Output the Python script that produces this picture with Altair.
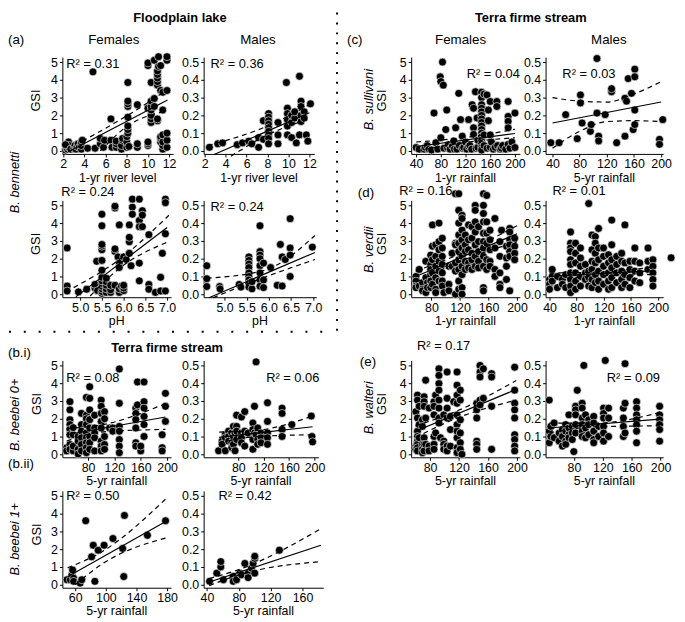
import altair as alt
import pandas as pd

FONT = "Liberation Sans"
FS = 13
TICK_FS = 12.5

# ---------------- data: (a) B. bennetti, floodplain lake ----------------
A1F_PTS = [(2.2,0.05),(2.3,0.15),(2.3,0.3),(2.4,0.1),(2.4,0.4),(2.5,0.2),(2.5,0.5),(2.6,0.3),(2.2,0.35),(2.7,0.1),
           (3.0,0.15),(3.1,0.3),(3.2,0.1),(3.3,0.25),(3.4,0.4),(3.5,0.2),(3.7,0.1),(3.7,0.3),(3.7,0.5),(3.8,0.6),
           (4.3,0.15),(5.0,0.15),(4.8,4.45),(5.5,0.4),(5.5,0.7),(5.8,0.2),(5.9,0.6),(6.5,1.8),(6.5,0.6),(6.6,0.2),
           (7.0,0.2),(7.0,0.4),(7.0,0.55),(7.5,0.1),(7.5,0.3),(7.6,0.6),(7.6,0.7),
           (8.0,0.2),(8.0,0.5),(8.0,0.8),(8.1,1.0),(8.1,1.2),(8.1,1.4),(8.1,1.9),(8.1,2.5),(8.1,2.65),(8.1,2.8),(8.1,3.85),(8.2,0.25),
           (9.0,0.2),(9.0,0.4),(9.0,2.6),(10.0,0.3),(10.0,0.4),(10.0,0.5),(10.0,2.4),(10.0,4.8),(10.0,4.95),
           (10.3,1.6),(10.3,1.8),(10.3,2.0),(10.3,2.3),(10.3,2.5),(10.3,2.8),(10.3,3.85),(10.6,2.95),(10.6,2.5),(10.6,5.1),
           (10.9,3.7),(10.9,3.9),(10.9,4.1),(10.9,4.3),(10.9,4.5),(11.0,4.75),(11.0,5.3),(10.9,1.7),(10.9,1.8),
           (11.2,0.5),(11.2,0.7),(11.2,0.8),(11.2,4.8),(11.2,3.4),(11.4,0.1),(11.4,0.3),(11.4,0.5),(11.4,0.9),(11.4,2.3),(11.4,3.3),
           (11.8,0.2),(11.8,0.6),(11.8,1.0),(11.8,3.4),(11.8,5.1),(11.8,5.3)]
A1F_FIT = [(2.5,-0.05),(11.85,2.87)]
A1F_UP = [(3.8,0.55),(8.0,1.97),(11.85,3.45)]
A1F_LO = [(5.5,0.0),(8.0,1.37),(11.85,2.25)]

A1M_PTS = [(2.45,0.02),(3.25,0.04),(3.7,0.045),(5.1,0.035),(5.6,0.045),(6.2,0.055),(6.5,0.04),(7.15,0.075),(7.15,0.02),
           (7.6,0.065),(7.6,0.17),(8.1,0.21),(8.1,0.19),(8.1,0.17),(8.1,0.15),(8.1,0.13),(8.1,0.11),(8.1,0.09),(8.1,0.07),(8.1,0.04),
           (9.0,0.16),(9.0,0.09),(9.0,0.04),(9.8,0.385),(9.9,0.24),(9.9,0.21),(9.9,0.175),(9.9,0.14),(9.9,0.09),
           (10.3,0.075),(10.3,0.16),(10.3,0.2),(10.6,0.185),(10.6,0.22),(10.75,0.045),(11.05,0.09),(11.05,0.42),
           (11.2,0.28),(11.2,0.25),(11.2,0.2),(11.2,0.165),(11.5,0.22),(11.5,0.185),(11.7,0.09),(11.85,0.055),(12.1,0.265)]
A1M_FIT = [(2.9,-0.02),(12.0,0.215)]
A1M_UP = [(2.3,0.03),(8.0,0.14),(12.0,0.26)]
A1M_LO = [(4.5,-0.03),(8.0,0.09),(12.0,0.18)]

A2F_PTS = [(4.7,2.6),(4.7,0.46),(4.7,0.18),(4.96,0.13),(5.15,0.28),(5.34,0.35),(5.34,0.55),(5.38,1.85),(5.4,0.2),
           (5.5,0.05),(5.5,0.15),(5.5,0.3),(5.5,0.45),(5.5,0.6),(5.5,0.75),(5.5,0.95),(5.5,1.35),(5.5,1.9),(5.5,2.5),(5.5,2.7),
           (5.5,2.8),(5.5,3.85),(5.5,4.5),(5.6,0.1),(5.6,0.3),(5.6,0.5),(5.6,0.7),(5.6,0.9),(5.7,0.1),(5.7,0.25),(5.7,0.5),
           (5.8,2.4),(5.8,2.55),(5.8,4.85),(5.8,4.95),(5.8,0.5),(5.9,0.1),(5.9,0.3),(5.95,0.45),(6.0,0.2),(6.0,0.35),(6.0,0.5),
           (5.87,2.1),(5.9,1.75),(5.9,1.5),(5.9,3.9),(6.0,2.1),(6.06,1.95),(6.13,2.3),(6.13,2.95),(6.13,3.2),(6.17,1.6),(6.13,3.9),
           (6.2,4.9),(6.2,5.35),(6.2,4.5),(6.36,5.35),(6.36,4.15),(6.36,3.8),(6.36,1.75),(6.36,0.75),(6.43,4.7),(6.43,4.45),(6.43,3.8),
           (6.58,3.35),(6.58,0.55),(6.58,0.28),(6.73,0.1),(6.85,0.95),(6.89,2.3),(6.85,0.18),(6.96,0.18),(6.96,5.35),(6.96,5.15),(6.96,3.4)]
A2F_FIT = [(4.9,-0.15),(7.0,3.75)]
A2F_UP = [(4.85,0.37),(5.9,1.95),(7.04,4.44)]
A2F_LO = [(5.23,-0.1),(5.9,1.45),(7.04,2.96)]

A2M_PTS = [(4.6,0.16),(4.6,0.087),(4.6,0.043),(4.89,0.043),(4.9,0.03),(5.33,0.055),(5.37,0.04),
           (5.55,0.21),(5.55,0.19),(5.55,0.17),(5.55,0.15),(5.55,0.12),(5.55,0.1),(5.55,0.08),(5.55,0.06),(5.55,0.04),
           (5.62,0.03),(5.62,0.07),(5.8,0.385),(5.8,0.24),(5.8,0.22),(5.8,0.2),(5.8,0.16),(5.8,0.12),(5.8,0.08),(5.8,0.045),
           (5.88,0.175),(5.88,0.08),(5.88,0.037),(6.04,0.15),(6.19,0.05),(6.3,0.046),(6.26,0.28),(6.3,0.21),(6.37,0.195),
           (6.48,0.425),(6.48,0.26),(6.48,0.22),(6.48,0.1),(6.98,0.265)]
A2M_FIT = [(4.65,-0.02),(7.04,0.235)]
A2M_UP = [(4.6,0.09),(5.9,0.135),(7.04,0.33)]
A2M_LO = [(4.74,-0.02),(5.9,0.095),(7.04,0.195)]

# ---------------- (b) B. beebei, terra firme stream ----------------
BIF_PTS = [(47.5,0.37),(47.5,0.19),(52.5,2.96),(52.5,2.5),(52.5,1.95),(52.5,1.67),(52.5,1.4),(52.5,1.1),(52.5,0.55),(52.5,0.28),
           (57.5,0.19),(57.5,0.46),(57.5,1.1),(57.5,1.5),(65,1.0),(65,0.74),(65,0.28),(65,0.02),
           (70,2.3),(70,1.67),(70,1.3),(70,0.93),(70,0.55),(70,0.19),
           (77.5,3.2),(77.5,2.2),(77.5,2.0),(77.5,1.67),(77.5,1.2),(77.5,0.93),(77.5,0.65),(77.5,0.37),(77.5,0.09),
           (82.5,3.8),(82.5,3.15),(82.5,2.5),(82.5,1.95),(82.5,1.48),(82.5,1.0),(82.5,0.65),(82.5,0.28),
           (90,2.2),(90,1.48),(90,1.2),(90,0.93),(90,0.19),
           (100,3.05),(100,2.7),(100,2.3),(100,1.85),(100,1.48),(100,0.74),(100,0.46),(100,0.19),
           (105,2.4),(105,2.0),(105,1.0),(105,0.55),(105,0.28),(112.5,1.48),(117.5,1.48),(117.5,1.3),
           (127.5,4.8),(127.5,2.87),(127.5,1.57),(127.5,1.3),(127.5,0.83),(127.5,0.46),(127.5,0.09),
           (152.5,2.6),(152.5,2.3),(152.5,1.95),(152.5,1.48),(152.5,0.65),(152.5,0.46),(155,4.07),(155,2.78),
           (160,0.19),(160,0.46),(165,4.07),(165,2.96),(165,2.6),(165,2.13),(165,1.67),(165,1.0),
           (192.5,1.1),(192.5,0.37),(192.5,0.19),(197.5,3.43),(197.5,2.7),(197.5,1.85)]
BIF_FIT = [(47.5,1.1),(197.5,2.1)]
BIF_UP = [(47.5,1.45),(100,1.65),(197.5,2.85)]
BIF_LO = [(47.5,0.75),(100,1.25),(197.5,1.4)]

BIM_PTS = [(49,0.02),(54.5,0.074),(54.5,0.056),(59.6,0.11),(59.6,0.093),(59.6,0.02),(64.7,0.13),(64.7,0.1),(64.7,0.074),
           (69.8,0.12),(69.8,0.065),(69.8,0.037),(72.3,0.157),(72.3,0.1),(72.3,0.056),(74.9,0.12),(74.9,0.02),
           (77.4,0.22),(77.4,0.157),(77.4,0.13),(77.4,0.083),(85,0.21),(85,0.12),(85,0.093),(85,0.065),
           (90.2,0.24),(90.2,0.13),(90.2,0.046),(95.3,0.12),(103,0.176),(103,0.139),(103,0.083),(103,0.028),
           (105.5,0.27),(105.5,0.12),(108,0.52),(108,0.11),(110.6,0.148),(110.6,0.083),(110.6,0.056),
           (115.8,0.12),(115.8,0.093),(115.8,0.065),(126,0.29),(126,0.185),(126,0.12),(126,0.093),(126,0.056),
           (149,0.26),(149,0.23),(149,0.14),(149,0.1),(164.3,0.167),(195,0.215),(196,0.1),(197,0.07)]
BIM_FIT = [(50,0.095),(197,0.155)]
BIM_UP = [(50,0.125),(110,0.135),(197,0.215)]
BIM_LO = [(50,0.065),(110,0.1),(197,0.11)]

BIIF_PTS = [(49.3,0.28),(53.6,0.28),(55.7,0.56),(56.6,0.83),(57.9,0.37),(57.9,0.19),(66.4,0.09),(68.6,0.28),
            (73.7,3.6),(81.4,1.57),(83.6,2.22),(85.7,0.19),(90,1.94),(97.7,2.22),(109.3,2.6),(122,2.04),(123.4,0.46),
            (124.3,3.9),(154.3,2.78),(178,3.6)]
BIIF_FIT = [(50,0.45),(180,3.6)]
BIIF_UP = [(50,0.95),(95,1.86),(180,4.9)]
BIIF_LO = [(60,0.0),(95,1.16),(180,2.65)]

BIIM_PTS = [(43.3,0.019),(52.4,0.065),(57.4,0.1),(57.4,0.13),(60.7,0.028),(73,0.046),(73,0.019),(77.2,0.028),
            (81.4,0.065),(83.4,0.056),(87.6,0.12),(91.7,0.065),(91.7,0.04),(95.9,0.093),(97.9,0.12),(100,0.148),
            (100,0.16),(100,0.065),(131,0.194)]
BIIM_FIT = [(43,0.015),(183,0.222)]
BIIM_UP = [(43,0.035),(80,0.085),(183,0.315)]
BIIM_LO = [(43,-0.005),(80,0.055),(183,0.13)]

# ---------------- (c) B. sullivani ----------------
CF_PTS = [(40,0.19),(45,0.1),(53,0.1),(55,0.2),(58,0.3),(61,0.1),(65,0.05),(69,2.13),(72,0.46),(75,0.1),(79,4.17),(80,3.9),
          (80,0.74),(82.7,5.0),(84,3.7),(85,0.15),(88,1.2),(89.6,2.3),(90.7,0.19),(92,0.35),(95,0.1),(98.7,0.28),(101,0.56),
          (102,0.1),(104,1.3),(106,0.1),(109,3.24),(110,0.3),(112,1.76),(114.7,0.83),(115,0.15),(117,0.2),(120,0.5),(122,0.1),
          (125,1.76),(125,0.25),(127,0.3),(130,0.1),(130.7,2.6),(133,2.4),(133,1.3),(133,0.93),(136,3.33),(137,0.15),(138.7,1.85),
          (140,0.2),(140,0.6),(146,3.3),(146,3.0),(146,2.6),(146,2.4),(146,2.2),(146,2.0),(146,1.8),(146,1.6),(146,1.4),(146,1.2),
          (146,1.0),(146,0.8),(146,0.6),(146,0.4),(146,0.2),(146,0.05),(150,3.2),(150,0.9),(150,0.3),(154.7,3.15),(155,0.15),
          (157,2.3),(157,1.7),(160,2.78),(160,0.9),(160,0.2),(162,0.5),(165,0.1),(168,0.2),(170.7,2.78),(170.7,2.5),(172,0.3),
          (176,0.1),(178,0.15),(180,0.3),(185,0.1),(189,2.78),(189,1.94),(189,1.67),(189,1.3),(189,0.37),(192,0.15),(195,0.5),
          (200,2.13),(200,0.19)]
CF_FIT = [(40,0.25),(200,0.98)]
CF_UP = [(40,0.5),(130,0.8),(200,1.22)]
CF_LO = [(40,0.0),(130,0.52),(200,0.74)]

CM_PTS = [(37.6,0.046),(49.7,0.046),(59.4,0.204),(76.4,0.069),(81.2,0.315),(81.2,0.27),(83.6,0.157),(95.8,0.11),(97,0.148),
          (105.5,0.52),(105.5,0.213),(108,0.083),(108,0.056),(117.6,0.204),(127,0.333),(127,0.35),(134.5,0.046),(146.7,0.083),
          (146.7,0.296),(149,0.28),(151.5,0.407),(156.4,0.324),(158.8,0.12),(161.2,0.46),(161.2,0.417),(161.2,0.23),
          (161.2,0.148),(197.6,0.065),(197.6,0.037),(202.4,0.176)]
CM_FIT = [(40,0.157),(200,0.275)]
CM_UP = [(40,0.3),(80,0.28),(120,0.275),(160,0.32),(200,0.39)]
CM_LO = [(40,0.015),(80,0.11),(120,0.165),(160,0.17),(200,0.165)]

# ---------------- (d) B. verdii ----------------
DF_PTS = [(58.3,1.0),(58.3,0.74),(58.3,0.46),(58.3,0.37),(62.9,0.46),(62.9,1.39),(67.5,0.65),(67.5,0.28),(67.5,0.19),
          (72.2,1.85),(72.2,0.93),(72.2,0.09),(74.5,0.65),(74.5,0.37),
          (79,2.2),(79,1.67),(79,1.39),(79,1.1),(79,0.74),(79,0.37),(81.4,3.9),(81.4,2.7),(81.4,1.94),(81.4,1.2),(81.4,0.56),
          (86,2.78),(86,2.13),(86,1.57),(86,0.93),(86,0.28),(86,0.09),(90.6,4.0),(90.6,2.96),(90.6,2.5),(90.6,1.85),(90.6,1.3),(90.6,0.74),
          (95.2,3.15),(95.2,2.6),(95.2,2.13),(95.2,1.67),(95.2,1.2),(95.2,0.74),(95.2,0.46),(97.5,0.09),
          (104.5,1.57),(104.5,0.56),(104.5,0.19),(109,2.3),(109,1.57),
          (113.7,5.65),(113.7,2.87),(113.7,2.78),(113.7,1.76),(113.7,1.3),(113.7,0.0),
          (118.3,5.65),(118.3,4.72),(118.3,4.0),(118.3,3.33),(118.3,2.87),(118.3,2.4),(118.3,1.94),(118.3,1.39),(118.3,0.74),(118.3,0.28),
          (122.9,4.44),(122.9,4.26),(122.9,3.6),(122.9,3.06),(122.9,2.6),(122.9,2.13),(122.9,1.57),(122.9,1.1),(122.9,0.37),(122.9,0.0),
          (127.5,3.33),(127.5,2.78),(127.5,2.4),(127.5,1.85),(127.5,1.39),(132,3.9),(132,3.06),(132,2.5),(132,1.76),(132,1.48),
          (136.8,3.8),(136.8,3.15),(136.8,2.3),(136.8,1.94),(136.8,1.39),
          (141.4,5.0),(141.4,4.72),(141.4,4.07),(141.4,3.5),(141.4,2.78),(141.4,2.13),(141.4,1.57),
          (146,3.8),(146,2.96),(146,2.4),(146,1.85),(146,1.48),
          (152.9,5.65),(152.9,5.0),(152.9,4.54),(152.9,4.07),(152.9,3.43),(152.9,2.96),(152.9,2.6),(152.9,2.13),(152.9,1.57),(152.9,0.37),(152.9,0.19),
          (157.5,5.56),(157.5,4.07),(157.5,3.43),(157.5,2.87),(157.5,1.94),(157.5,1.39),
          (162.1,3.6),(162.1,3.06),(162.1,2.5),(162.1,1.85),(162.1,1.57),(169,4.26),(169,2.6),(169,1.39),(169,1.0),
          (176,2.96),(176,2.13),(176,1.2),(176,0.56),(176,0.37),(178.3,3.6),
          (185.2,2.7),(185.2,2.04),(185.2,1.57),(185.2,0.83),
          (189.8,3.7),(189.8,3.5),(189.8,3.06),(189.8,2.78),(189.8,2.4),(189.8,2.13),(189.8,0.19),
          (196.7,3.15),(196.7,2.7),(196.7,2.3),(196.7,1.94)]
DF_FIT = [(58,1.0),(200,3.4)]
DF_UP = [(58,1.3),(125,2.35),(200,3.85)]
DF_LO = [(58,0.68),(125,1.92),(200,2.95)]

DM_PTS = [(40,0.083),(40,0.056),(40,0.028),(44,0.139),(44,0.1),(44,0.074),(51.6,0.1),(51.6,0.037),(59,0.083),(59,0.056),
          (63.8,0.11),(63.8,0.037),
          (71,0.35),(71,0.287),(71,0.26),(71,0.24),(71,0.194),(71,0.167),(71,0.12),(71,0.083),(71,0.046),(71,0.009),
          (78.3,0.287),(78.3,0.23),(78.3,0.176),(78.3,0.12),(78.3,0.074),(78.3,0.028),
          (85.6,0.26),(85.6,0.204),(85.6,0.157),(85.6,0.1),(85.6,0.046),(92.8,0.167),(92.8,0.12),(92.8,0.083),
          (97.7,0.51),(97.7,0.13),(97.7,0.093),(97.7,0.046),
          (102.5,0.333),(102.5,0.25),(102.5,0.185),(102.5,0.139),(102.5,0.083),(102.5,0.037),
          (107.4,0.324),(107.4,0.287),(107.4,0.23),(107.4,0.176),(107.4,0.11),(107.4,0.065),
          (112.2,0.37),(112.2,0.26),(112.2,0.194),(112.2,0.13),(112.2,0.074),(112.2,0.028),
          (119.5,0.26),(119.5,0.213),(119.5,0.157),(119.5,0.11),(119.5,0.056),
          (126.8,0.222),(126.8,0.176),(126.8,0.12),(126.8,0.074),(126.8,0.028),
          (131.6,0.417),(131.6,0.278),(131.6,0.194),(131.6,0.148),(131.6,0.093),(131.6,0.037),
          (138.9,0.213),(138.9,0.167),(138.9,0.12),(138.9,0.065),
          (146.2,0.23),(146.2,0.185),(146.2,0.13),(146.2,0.083),(146.2,0.037),
          (151,0.39),(151,0.176),(151,0.11),(151,0.056),(158.3,0.185),(158.3,0.139),(158.3,0.093),(158.3,0.037),
          (165.6,0.26),(165.6,0.185),(165.6,0.13),(165.6,0.074),(172.8,0.176),(172.8,0.12),(172.8,0.065),
          (185,0.26),(185,0.185),(185,0.139),(192.2,0.194),(192.2,0.157),(192.2,0.12),(192.2,0.083),(192.2,0.046),
          (219,0.205)]
DM_FIT = [(40,0.1),(195,0.133)]
DM_UP = [(40,0.12),(120,0.125),(195,0.155)]
DM_LO = [(40,0.08),(120,0.105),(195,0.11)]

# ---------------- (e) B. walteri ----------------
EF_PTS = [(60.5,2.4),(60.5,0.46),(60.5,0.28),(62.7,3.33),(62.7,3.05),(62.7,2.04),(62.7,1.3),(62.7,1.0),(62.7,0.74),(62.7,0.56),
          (62.7,0.37),(62.7,0.19),(65,2.7),(65,1.67),(65,0.93),(69.5,1.94),(69.5,1.57),(69.5,0.56),(69.5,0.28),(69.5,0.09),
          (71.8,3.24),(71.8,2.96),(71.8,2.7),(71.8,0.93),(71.8,0.56),(71.8,0.19),(74,4.17),(74,2.04),(74,0.56),
          (78.6,2.6),(78.6,0.46),(78.6,0.19),(85.5,2.96),(85.5,2.7),(85.5,2.22),(85.5,1.0),(85.5,0.56),(85.5,0.28),
          (87.7,3.33),(87.7,1.2),(92.3,4.81),(92.3,4.44),(92.3,3.98),(92.3,3.61),(92.3,3.05),(92.3,2.6),(92.3,2.04),(92.3,1.76),
          (94.5,0.93),(99,2.22),(99,0.74),(99,0.56),(99,0.28),(103.6,4.63),(103.6,3.15),(103.6,2.6),(103.6,2.04),(103.6,0.46),
          (103.6,0.19),(108.2,2.13),(108.2,1.39),(108.2,0.46),(112.7,2.96),
          (117.3,4.63),(117.3,3.89),(117.3,3.33),(117.3,2.87),(117.3,2.22),(117.3,1.67),(117.3,1.3),(117.3,0.93),(117.3,0.37),(117.3,0.09),
          (121.8,3.61),(121.8,3.05),(121.8,1.94),(121.8,1.2),(121.8,0.65),(121.8,0.28),(124,0.0),
          (144.5,2.87),(144.5,2.5),(144.5,2.04),(144.5,0.74),(144.5,0.56),(144.5,0.28),
          (149,5.0),(149,4.63),(149,4.35),(149,3.05),(149,2.78),(153.6,4.81),(153.6,3.15),
          (165,4.54),(165,4.35),(165,2.7),(165,0.28),
          (196.8,4.9),(196.8,3.61),(196.8,2.87),(196.8,2.5),(196.8,2.04),(196.8,1.1),(196.8,0.83),(196.8,0.46),(196.8,0.19)]
EF_FIT = [(60,1.3),(199,3.65)]
EF_UP = [(60,1.6),(115,2.4),(199,4.15)]
EF_LO = [(60,0.95),(115,2.0),(199,3.05)]

EM_PTS = [(45.8,0.305),(45.8,0.13),(45.8,0.065),(48,0.157),(48,0.1),(52.6,0.176),(52.6,0.093),(59.5,0.12),(59.5,0.074),
          (64,0.139),(64,0.1),(64,0.046),(68.6,0.167),(68.6,0.13),(68.6,0.074),(68.6,0.056),
          (73,0.222),(73,0.148),(73,0.11),(73,0.093),(77.7,0.157),(77.7,0.12),(77.7,0.083),(79.8,0.015),
          (82.3,0.27),(82.3,0.25),(82.3,0.222),(82.3,0.167),(82.3,0.12),(84.6,0.36),(93.7,0.5),
          (91.4,0.287),(91.4,0.26),(91.4,0.204),(91.4,0.167),(91.4,0.13),(91.4,0.1),
          (96,0.222),(96,0.148),(96,0.093),(100.5,0.194),(100.5,0.167),(100.5,0.11),
          (107.4,0.213),(107.4,0.176),(107.4,0.13),(107.4,0.083),(107.4,0.065),(114.2,0.157),(114.2,0.1),
          (121,0.26),(121,0.23),(121,0.204),(121,0.157),(121,0.12),(121,0.074),(123.4,0.528),
          (128,0.26),(128,0.204),(128,0.1),(148.5,0.26),(148.5,0.204),(148.5,0.157),(148.5,0.1),
          (150.8,0.51),(150.8,0.287),(150.8,0.12),
          (166.8,0.296),(166.8,0.26),(166.8,0.222),(166.8,0.194),(166.8,0.167),(166.8,0.13),(166.8,0.065),
          (198.7,0.27),(198.7,0.222),(198.7,0.194),(198.7,0.167),(198.7,0.139),(198.7,0.074)]
EM_FIT = [(46,0.148),(199,0.198)]
EM_UP = [(46,0.175),(110,0.175),(199,0.235)]
EM_LO = [(46,0.12),(110,0.155),(199,0.16)]

YT_F = [0, 1, 2, 3, 4, 5]
YT_M = [0.0, 0.1, 0.2, 0.3, 0.4, 0.5]
YD_F = [-0.17, 5.28]
YD_M = [-0.017, 0.528]
H = 98


def df(pairs):
    return pd.DataFrame(pairs, columns=["x", "y"])


def txt(s, px, py, org, size=FS, align="center", weight="normal", style="normal", angle=0):
    return alt.Chart(pd.DataFrame({"t": [s]})).mark_text(
        align=align, baseline="middle", fontSize=size, font=FONT, fontWeight=weight,
        fontStyle=style, angle=angle, color="black"
    ).encode(x=alt.value(px - org[0]), y=alt.value(py - org[1]), text="t:N")


def hrule(x1, x2, y, org):
    return alt.Chart(pd.DataFrame({"a": [0]})).mark_rule(
        color="black", strokeWidth=2, strokeDash=[2, 13]
    ).encode(x=alt.value(x1 - org[0]), x2=alt.value(x2 - org[0]), y=alt.value(y - org[1]))


def vrule(x, y1, y2, org):
    return alt.Chart(pd.DataFrame({"a": [0]})).mark_rule(
        color="black", strokeWidth=2, strokeDash=[2, 8]
    ).encode(x=alt.value(x - org[0]), y=alt.value(y1 - org[1]), y2=alt.value(y2 - org[1]))


def spacer(w, h):
    return alt.Chart(pd.DataFrame({"a": [0]})).mark_point(opacity=0, size=1).encode(
        x=alt.value(0), y=alt.value(0)).properties(width=w, height=h)


def panel(org, w, pts, fit, up, lo, xdom, xticks, male, r2, r2pos, r2align, xtitle, extra, xfmt="d"):
    ydom = YD_M if male else YD_F
    yticks = YT_M if male else YT_F
    xax = alt.Axis(values=xticks, format=xfmt, title=None, labelOverlap=False, labelFlush=False)
    yax = alt.Axis(values=yticks, format=".1f" if male else "d", title=None, labelOverlap=False, labelFlush=False)
    X = alt.X("x:Q", scale=alt.Scale(domain=xdom, nice=False, zero=False), axis=xax)
    Y = alt.Y("y:Q", scale=alt.Scale(domain=ydom, nice=False, zero=False), axis=yax)
    pts_l = alt.Chart(df(pts)).mark_point(
        shape="circle", filled=True, fill="black", stroke="white", strokeWidth=0.6, size=64, opacity=1
    ).encode(x=X, y=Y)
    fit_l = alt.Chart(df(fit)).mark_line(color="black", strokeWidth=1.2).encode(x=X, y=Y)
    up_l = alt.Chart(df(up)).mark_line(color="black", strokeWidth=1.2, strokeDash=[5, 4], interpolate="monotone").encode(x=X, y=Y)
    lo_l = alt.Chart(df(lo)).mark_line(color="black", strokeWidth=1.2, strokeDash=[5, 4], interpolate="monotone").encode(x=X, y=Y)
    layers = [pts_l, fit_l, up_l, lo_l,
              txt(r2, r2pos[0], r2pos[1], org, align=r2align),
              txt(xtitle, org[0] + w / 2, org[1] + H + 24, org, size=12.5)]
    layers += extra
    return alt.layer(*layers).properties(width=w, height=H)


# grid: column lefts 64, 207, 417, 553 ; row tops 55, 200, 362, 494
O_A1F, O_A1M = (64, 55), (207, 55)
O_A2F, O_A2M = (64, 200), (207, 200)
O_BIF, O_BIM = (64, 362), (207, 362)
O_BIIF, O_BIIM = (64, 494), (207, 494)
O_CF, O_CM = (417, 55), (553, 55)
O_DF, O_DM = (417, 200), (553, 200)
O_EF, O_EM = (417, 362), (553, 362)


def gsi(org, x):
    return txt("GSI", x, org[1] + H / 2 - 5, org, angle=270)


a1F = panel(O_A1F, 112, A1F_PTS, A1F_FIT, A1F_UP, A1F_LO, [1.91, 12.37], [2, 4, 6, 8, 10, 12], False,
            "R² = 0.31", (68, 62), "left", "1-yr river level",
            [txt("Floodplain lake", 183, 15, O_A1F, weight="bold"),
             txt("(a)", 9, 38, O_A1F, align="left", size=13.5),
             txt("Females", 116, 38, O_A1F, size=13.5),
             txt("B. bennetti", 16, 182, O_A1F, style="italic", angle=270),
             gsi(O_A1F, 37)])
a1M = panel(O_A1M, 112, A1M_PTS, A1M_FIT, A1M_UP, A1M_LO, [1.9, 12.47], [2, 4, 6, 8, 10, 12], True,
            "R² = 0.36", (214, 62), "left", "1-yr river level",
            [txt("Males", 262, 38, O_A1M, size=13.5)])
a2F = panel(O_A2F, 110, A2F_PTS, A2F_FIT, A2F_UP, A2F_LO, [4.59, 7.09], [5.0, 5.5, 6.0, 6.5, 7.0], False,
            "R² = 0.24", (63, 192), "left", "pH",
            [gsi(O_A2F, 37), hrule(10, 340, 333, O_A2F)], xfmt=".1f")
a2M = panel(O_A2M, 114, A2M_PTS, A2M_FIT, A2M_UP, A2M_LO, [4.53, 7.07], [5.0, 5.5, 6.0, 6.5, 7.0], True,
            "R² = 0.24", (214, 207), "left", "pH", [], xfmt=".1f")
biF = panel(O_BIF, 110, BIF_PTS, BIF_FIT, BIF_UP, BIF_LO, [41, 206], [80, 120, 160, 200], False,
            "R² = 0.08", (68, 380), "left", "5-yr rainfall",
            [txt("Terra firme stream", 170, 349, O_BIF, weight="bold"),
             txt("(b.i)", 9, 354, O_BIF, align="left", size=13.5),
             txt("B. beebei 0+", 16, 417, O_BIF, style="italic", angle=270),
             gsi(O_BIF, 38)])
biM = panel(O_BIM, 116, BIM_PTS, BIM_FIT, BIM_UP, BIM_LO, [25.5, 206], [80, 120, 160, 200], True,
            "R² = 0.06", (324, 380), "right", "5-yr rainfall", [])
biiF = panel(O_BIIF, 110, BIIF_PTS, BIIF_FIT, BIIF_UP, BIIF_LO, [43.2, 185.2], [60, 100, 140, 180], False,
             "R² = 0.50", (68, 499), "left", "5-yr rainfall",
             [txt("(b.ii)", 9, 467, O_BIIF, align="left", size=13.5),
              txt("B. beebei 1+", 16, 543, O_BIIF, style="italic", angle=270),
              gsi(O_BIIF, 38)])
biiM = panel(O_BIIM, 121, BIIM_PTS, BIIM_FIT, BIIM_UP, BIIM_LO, [35.9, 186], [40, 80, 120, 160], True,
             "R² = 0.42", (222, 499), "left", "5-yr rainfall", [])

cF = panel(O_CF, 110, CF_PTS, CF_FIT, CF_UP, CF_LO, [32, 208], [40, 80, 120, 160, 200], False,
           "R² = 0.04", (527, 72), "right", "1-yr rainfall",
           [txt("Terra firme stream", 538, 15, O_CF, weight="bold"),
            txt("(c)", 352, 38, O_CF, align="left", size=13.5),
            txt("Females", 467, 38, O_CF, size=13.5),
            txt("B. sullivani", 374, 98, O_CF, style="italic", angle=270),
            gsi(O_CF, 388),
            vrule(342, 10, 338, O_CF)])
cM = panel(O_CM, 119, CM_PTS, CM_FIT, CM_UP, CM_LO, [29.8, 203], [40, 80, 120, 160, 200], True,
           "R² = 0.03", (570, 72), "left", "5-yr rainfall",
           [txt("Males", 617, 38, O_CM, size=13.5)])
dF = panel(O_DF, 110, DF_PTS, DF_FIT, DF_UP, DF_LO, [51.6, 204], [80, 120, 160, 200], False,
           "R² = 0.16", (405, 191), "left", "1-yr rainfall",
           [txt("(d)", 363, 193, O_DF, align="left", size=13.5),
            txt("B. verdii", 374, 250, O_DF, style="italic", angle=270),
            gsi(O_DF, 388)])
dM = panel(O_DM, 119, DM_PTS, DM_FIT, DM_UP, DM_LO, [34.2, 207.3], [40, 80, 120, 160, 200], True,
           "R² = 0.01", (560, 191), "left", "1-yr rainfall", [])
eF = panel(O_EF, 110, EF_PTS, EF_FIT, EF_UP, EF_LO, [54, 204], [80, 120, 160, 200], False,
           "R² = 0.17", (423, 347), "left", "5-yr rainfall",
           [txt("(e)", 365, 364, O_EF, align="left", size=13.5),
            txt("B. walteri", 374, 410, O_EF, style="italic", angle=270),
            gsi(O_EF, 388)])
eM = panel(O_EM, 119, EM_PTS, EM_FIT, EM_UP, EM_LO, [40.7, 203.6], [80, 120, 160, 200], True,
           "R² = 0.09", (615, 380), "left", "5-yr rainfall", [])

# column widths 143, 210, 136, 119 ; row heights 145, 162, 132, 98
cells = [
    a1F, a1M, cF, cM, spacer(1, 145),
    a2F, a2M, dF, dM, spacer(1, 162),
    biF, biM, eF, eM, spacer(1, 132),
    biiF, biiM, spacer(136, 1), spacer(1, 1), spacer(1, 1),
    spacer(143, 1), spacer(210, 1), spacer(1, 1), spacer(1, 1), spacer(1, 1),
]

chart = alt.concat(*cells, columns=5, spacing=0, bounds="flush", align="each", padding=0).configure_view(
    stroke=None
).configure_axis(
    grid=False, domainColor="black", domainWidth=1, tickColor="black", tickWidth=1, tickSize=3,
    labelColor="black", labelFont=FONT, labelFontSize=TICK_FS, labelPadding=1
).configure_axisY(labelPadding=2)

chart.save("out.html", embed_options={"renderer": "svg", "actions": False})
